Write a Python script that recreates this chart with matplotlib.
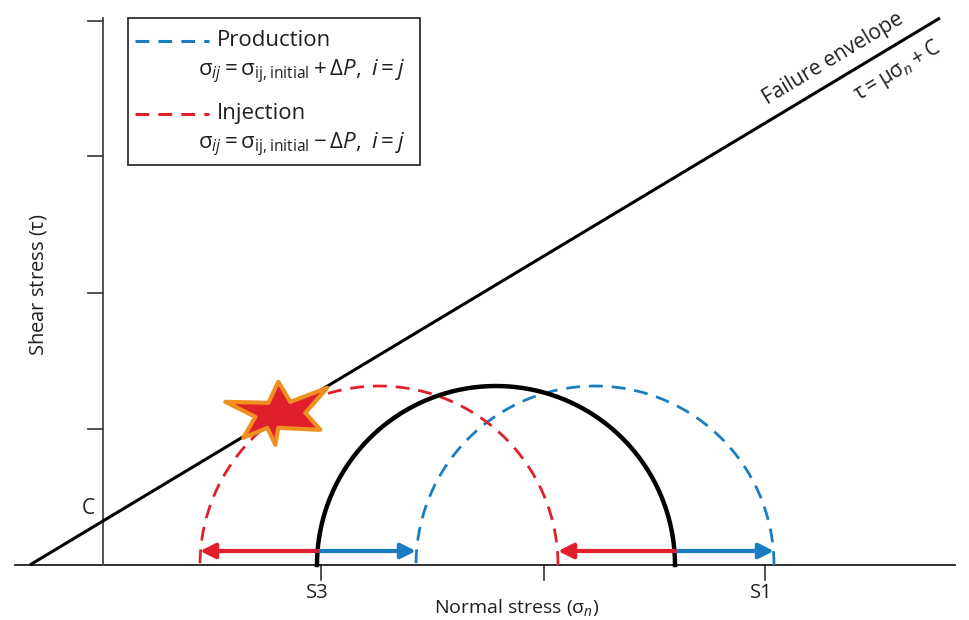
import numpy as np
import matplotlib.pyplot as plt
from matplotlib.patches import Polygon, Rectangle

plt.rcParams['font.family'] = ['Open Sans', 'DejaVu Sans']
plt.rcParams['mathtext.fontset'] = 'custom'
plt.rcParams['mathtext.rm'] = 'Open Sans'
plt.rcParams['mathtext.it'] = 'Open Sans:italic'

# ---- data (arbitrary stress units) ----
S3 = 214
S1 = 572
dP_prod = 99      # production shifts circle to the right
dP_inj = 117      # injection shifts circle to the left
mu = 0.601
C = 44
env_sigma = [-73, 837]
tau_ticks = [136, 272, 409, 544]
sigma_ticks = [218, 441, 662]
sigma_labels = {218: "S3", 662: "S1"}
arrow_tau = 14

BLUE = "#1b7dc1"
RED = "#e11f2c"
ORANGE = "#f0901e"
INK = "#231f20"

fig = plt.figure(figsize=(9.69, 6.2), dpi=100)
ax = fig.add_axes([0, 0, 1, 1])
ax.set_xlim(-103, 866)
ax.set_ylim(-55, 565)
ax.axis("off")

# axes lines
ax.plot([-88, 852], [0, 0], color=INK, lw=1.3)
ax.plot([0, 0], [0, 547], color="#444444", lw=1.3)
for t in tau_ticks:
    ax.plot([-15, 0], [t, t], color="#444444", lw=1.3)
for s in sigma_ticks:
    ax.plot([s, s], [0, -15], color=INK, lw=1.1)
    if s in sigma_labels:
        ax.text(s - 4, -28, sigma_labels[s], ha="center", va="center", fontsize=14.5, color=INK)

ax.text(-15, 56, "C", ha="center", va="center", fontsize=15, color=INK)
ax.text(-65, 280, r"Shear stress ($\mathrm{τ}$)", rotation=90, ha="center", va="center",
        fontsize=14.5, color=INK)
ax.text(414, -42, r"Normal stress ($\mathrm{σ}_n$)", ha="center", va="center", fontsize=14, color=INK)

# failure envelope
env_sigma = np.array(env_sigma)
ax.plot(env_sigma, mu * env_sigma + C, color="black", lw=2.2, solid_capstyle="butt")
ang = np.degrees(np.arctan(mu))
nx, ny = -np.sin(np.radians(ang)), np.cos(np.radians(ang))
s_a = 741
ax.annotate("Failure envelope", (s_a, mu * s_a + C), xytext=(nx * 7, ny * 7),
            textcoords="offset points", rotation=ang, rotation_mode="anchor",
            ha="center", va="bottom", fontsize=15, color=INK)
s_b = 782
ax.annotate(r"$\mathrm{τ} = \mathrm{μσ}_n + \mathrm{C}$", (s_b, mu * s_b + C), xytext=(-nx * 8, -ny * 8),
            textcoords="offset points", rotation=ang, rotation_mode="anchor",
            ha="center", va="top", fontsize=15, color=INK)

# Mohr circles
theta = np.linspace(0, np.pi, 400)


def half_circle(s3, s1):
    c, r = (s1 + s3) / 2, (s1 - s3) / 2
    return c + r * np.cos(theta), r * np.sin(theta)


x, y = half_circle(S3, S1)
ax.plot(x, y, color="black", lw=3.2, zorder=3)
x, y = half_circle(S3 + dP_prod, S1 + dP_prod)
ax.plot(x, y, color=BLUE, lw=2, dashes=(5, 3.2), zorder=2)
x, y = half_circle(S3 - dP_inj, S1 - dP_inj)
ax.plot(x, y, color=RED, lw=2, dashes=(5, 3.2), zorder=2)

# stress shift arrows
for s in (S3, S1):
    ax.annotate("", xy=(s + dP_prod, arrow_tau), xytext=(s, arrow_tau),
                arrowprops=dict(arrowstyle="-|>,head_length=0.9,head_width=0.45",
                                color=BLUE, lw=3, shrinkA=0, shrinkB=0), zorder=4)
    ax.annotate("", xy=(s - dP_inj, arrow_tau), xytext=(s, arrow_tau),
                arrowprops=dict(arrowstyle="-|>,head_length=0.9,head_width=0.45",
                                color=RED, lw=3, shrinkA=0, shrinkB=0), zorder=4)

# failure star at tangency of injection circle and envelope
c_inj = (S3 + S1) / 2 - dP_inj
d = (mu * c_inj + C) / np.hypot(1, mu)
tx, ty = c_inj - d * mu / np.hypot(1, mu), d / np.hypot(1, mu)
star = np.array([(-61, 9), (-18, 8), (-8, 29), (4, 9), (41, 23), (19, -2), (34, -19),
                 (-8, -17), (-11, -34), (-19, -17), (-43, -27), (-31, -6)], float)
ax.add_patch(Polygon(star + [tx, ty], closed=True, facecolor=RED, edgecolor=ORANGE,
                     lw=3, joinstyle="round", zorder=5))

# legend box
ax.add_patch(Rectangle((128 / 969, 1 - 165 / 620), 292 / 969, 147 / 620, transform=ax.transAxes,
                       facecolor="white", edgecolor=INK, lw=1.2, zorder=6))
for col, name, sign, yp in [(BLUE, "Production", "+", 41), (RED, "Injection", "-", 114)]:
    ya = 1 - yp / 620
    ax.plot([135 / 969, 209 / 969], [ya, ya], transform=ax.transAxes, color=col, lw=2.2,
            dashes=(4.5, 3), zorder=7)
    ax.text(217 / 969, ya, name, transform=ax.transAxes, ha="left", va="center",
            fontsize=16, color=INK, zorder=7)
    ax.text(198 / 969, 1 - (yp + 31) / 620,
            r"$\mathrm{σ}_{ij} = \mathrm{σ}_{\mathrm{ij,initial}} %s \mathrm{Δ}P,\ i = j$" % sign,
            transform=ax.transAxes, ha="left", va="center", fontsize=16, color=INK, zorder=7)

fig.savefig("out.png", dpi=100)
